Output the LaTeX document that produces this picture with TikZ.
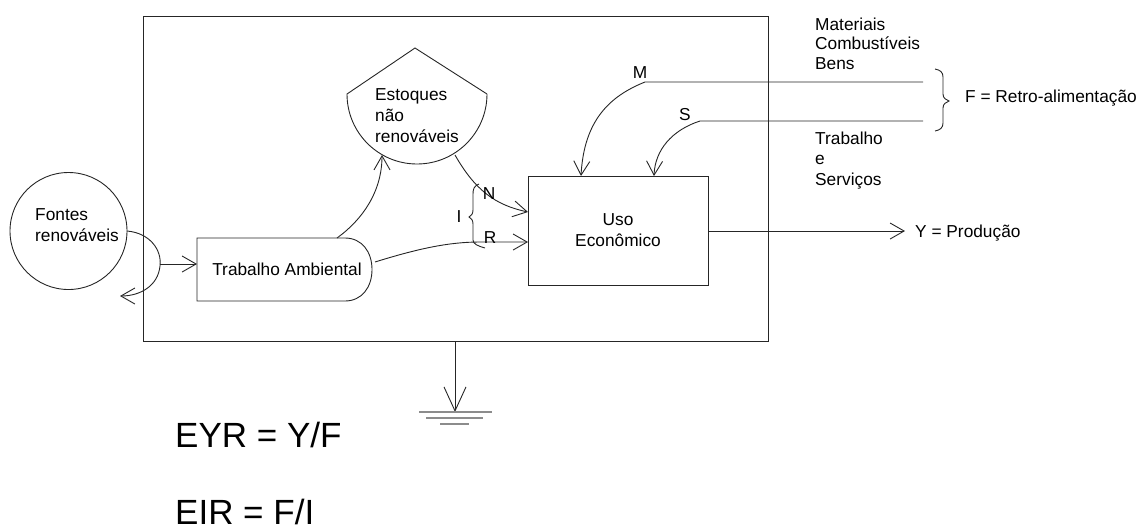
\documentclass[tikz,border=0pt]{standalone}
\usepackage{fontspec}
\setmainfont{Liberation Sans}
\usetikzlibrary{arrows.meta}
\begin{document}
\begin{tikzpicture}[x=1pt,y=-1pt,
  line/.style={line width=0.9pt, draw=black!85},
  flow/.style={line, -{Straight Barb[length=14pt,width=16pt,line width=0.9pt]}},
  sink/.style={line, -{Straight Barb[length=24pt,width=22pt,line width=0.9pt]}},
  lbl/.style={font=\fontsize{17.3}{21}\selectfont, inner sep=0pt},
  big/.style={font=\fontsize{35}{42}\selectfont, inner sep=0pt},
  bar/.style={line width=1.6pt, draw=black!45},
]
\useasboundingbox (0,0) rectangle (1143,531);

% system boundary
\draw[line] (143,16) rectangle (768,341);

% renewable sources (circle)
\node[line, draw, circle, minimum size=117pt, inner sep=0pt] (fontes) at (68.5,231) {};
\node[lbl, anchor=base west, align=left] (fontesTxt) at (35,241) {Fontes\\renováveis};

% environmental work (D-shaped box)
\draw[line] (345,238) -- (197,238) -- (197,301) -- (345,301)
  .. controls (362,301) and (372,287) .. (372,269.5)
  .. controls (372,252) and (362,238) .. (345,238);
\node[lbl, anchor=base] (trab) at (287,275) {Trabalho Ambiental};

% non-renewable stock (tank)
\draw[line] (487,94) -- (415,48) -- (347,94) arc[start angle=180, end angle=0, radius=70];
\node[lbl, anchor=base west, align=left] (tank) at (375,142) {Estoques\\não\\renováveis};

% economic use
\node[line, draw, minimum width=180pt, minimum height=109pt, inner sep=0pt,
      lbl, align=center] (uso) at (618,230.5) {Uso\\Econômico};

% named points on the shapes
\coordinate (fR) at (127,231);
\coordinate (fBack) at (120,296);
\coordinate (fOut) at (160,264);
\coordinate (trabIn) at (197,264);
\coordinate (trabTop) at (337,238);
\coordinate (trabRight) at (375,262);
\coordinate (tankIn) at (382,155);
\coordinate (tankOut) at (455,155);
\coordinate (usoN) at (528,212);
\coordinate (usoR) at (528,242);
\coordinate (usoM) at (581,176);
\coordinate (usoS) at (654,176);
\coordinate (usoY) at (708,231);
\coordinate (yEnd) at (905,231);
\coordinate (mEnd) at (923,82);
\coordinate (mBend) at (645,82);
\coordinate (sEnd) at (923,121);
\coordinate (sBend) at (700,121);
\coordinate (gTop) at (455,341);
\coordinate (gEnd) at (455,412);

% flows
\draw[flow] (fR) .. controls (150,233) and (162,250) .. (160,266)
  .. controls (158,286) and (140,296) .. (fBack);
\draw[flow] (fOut) -- (trabIn);
\draw[flow] (trabTop) .. controls (362,220) and (382,192) .. (tankIn);
\draw[flow] (tankOut) .. controls (475,190) and (495,205) .. (usoN);
\draw[flow] (trabRight) .. controls (420,248) and (450,242) .. (480,242) -- (usoR);
\draw[flow] (mEnd) -- (mBend) .. controls (610,96) and (584,120) .. (usoM);
\draw[flow] (sEnd) -- (sBend) .. controls (672,130) and (655,150) .. (usoS);
\draw[flow] (usoY) -- (yEnd);
\draw[sink] (gTop) -- (gEnd);

% ground symbol
\draw[bar] (419,412) -- (492,412);
\draw[bar] (426,418) -- (483,418);
\draw[bar] (440,424) -- (469,424);

% brace grouping N and R
\draw[line] (479,184) .. controls (474,186) and (473,189) .. (473,194)
  -- (473,210) .. controls (473,214) and (471,216) .. (469,217)
  .. controls (471,218) and (473,220) .. (473,224)
  -- (473,240) .. controls (473,244) and (478,246) .. (485,248);
\node[lbl, anchor=base] (iLbl) at (459,222) {I};
\node[lbl, anchor=base] (nLbl) at (489,199) {N};
\node[lbl, anchor=base] (rLbl) at (490,243) {R};
\node[lbl, anchor=base] (mLbl) at (640,78) {M};
\node[lbl, anchor=base] (sLbl) at (685,120) {S};

% feedback brace
\draw[line] (935,69) .. controls (940,70) and (943,72) .. (943,77)
  -- (943,94) .. controls (943,98) and (946,100) .. (949,101)
  .. controls (946,102) and (943,104) .. (943,108)
  -- (943,123) .. controls (943,128) and (940,130) .. (935,131);

% outside labels
\node[lbl, anchor=base west, align=left, font=\fontsize{17.3}{19.5}\selectfont] (goods) at (815,69) {Materiais\\Combustíveis\\Bens};
\node[lbl, anchor=base west, align=left, font=\fontsize{17.3}{20.5}\selectfont] (serv) at (815,185) {Trabalho\\e\\Serviços};
\node[lbl, anchor=base west] (fLbl) at (965,102) {F = Retro-alimentação};
\node[lbl, anchor=base west] (yLbl) at (915,237) {Y = Produção};

% indices
\node[big, anchor=base west] (eyr) at (175,447) {EYR = Y/F};
\node[big, anchor=base west] (eir) at (175,524) {EIR = F/I};
\end{tikzpicture}
\end{document}
